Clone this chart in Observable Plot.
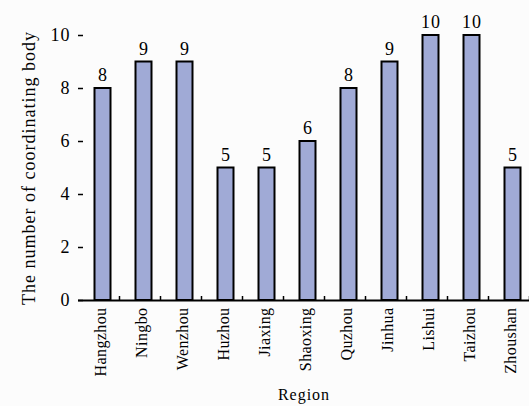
<!DOCTYPE html>
<html><head><meta charset="utf-8">
<script src="https://cdn.jsdelivr.net/npm/d3@7"></script>
<script src="https://cdn.jsdelivr.net/npm/@observablehq/plot@0.6"></script>
<style>
html,body{margin:0;padding:0;background:#fcfcfc;}
svg{background:#fcfcfc;}
g[aria-label="x-axis tick label"]{letter-spacing:0.4px;}
</style></head>
<body><div id="chart"></div>
<script>
const regions = ["Hangzhou","Ningbo","Wenzhou","Huzhou","Jiaxing","Shaoxing","Quzhou","Jinhua","Lishui","Taizhou","Zhoushan"];
const counts = [8,9,9,5,5,6,8,9,10,10,5];
const yTicks = [0,2,4,6,8,10];
const data = regions.map((r,i)=>({region:r, count:counts[i]}));
const font = "'Liberation Serif', serif";
const W = 529, H = 406, mL = 78, mR = 0;
const band = (W - mL - mR) / regions.length;
const plot = Plot.plot({
  width: W, height: H,
  marginLeft: mL, marginRight: mR, marginTop: 35, marginBottom: 106,
  style: {fontFamily: font, fontSize: "17px", background: "#fcfcfc", color: "#000", letterSpacing: "1px"},
  x: {domain: regions, padding: 0},
  y: {domain: [0,10]},
  marks: [
    Plot.barY(data, {x:"region", y:"count", fill:"#a0aad6", stroke:"#000", strokeWidth:2, insetLeft:16.5, insetRight:8.5}),
    Plot.text(data, {x:"region", y:"count", text:d=>String(d.count), dy:-13, dx:4, fontSize:18, fill:"#000"}),
    Plot.axisY({ticks: yTicks, tickSize:0, tickPadding:8, label:"The number of coordinating body", labelAnchor:"center", labelOffset:56, labelArrow:"none", fontSize:18}),
    Plot.axisY({ticks: yTicks, tickSize:5, text:null, label:null, dx:5, strokeWidth:1.5}),
    Plot.axisX({tickSize:0, tickRotate:-90, tickPadding:7, dx:2, label:"Region", labelAnchor:"center", labelOffset:99, labelArrow:"none", fontSize:16}),
    Plot.ruleX(regions, {x: d=>d, y1: 0, y2: 0.15, dx: band/2, stroke:"#000", strokeWidth:1.5}),
    Plot.ruleY([0], {stroke:"#000", strokeWidth:2}),
    Plot.ruleX([0], {frameAnchor:"left", stroke:"#000", strokeWidth:2})
  ]
});
document.getElementById("chart").appendChild(plot);
</script></body></html>
